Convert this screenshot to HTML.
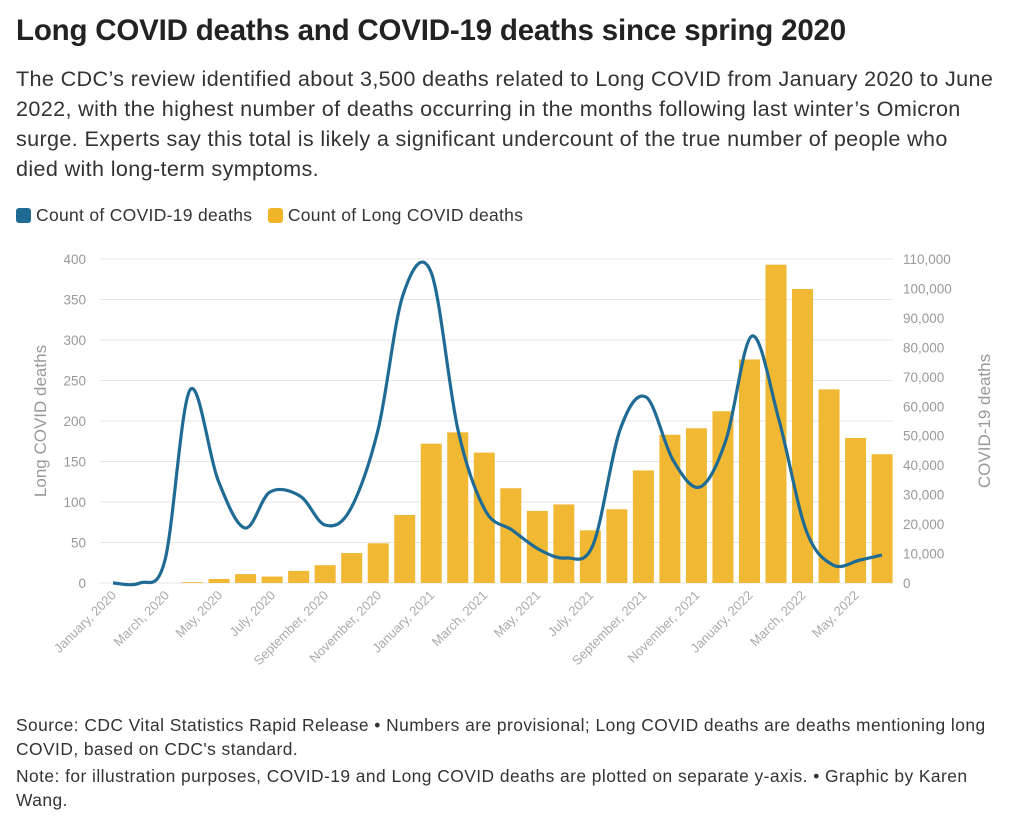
<!DOCTYPE html>
<html><head><meta charset="utf-8"><style>
body{margin:0;background:#fff;font-family:"Liberation Sans",sans-serif;color:#333;width:1024px;height:819px;overflow:hidden}
h1{position:absolute;left:16px;top:14px;margin:0;font-size:29.5px;font-weight:bold;color:#222;letter-spacing:-0.2px;white-space:nowrap}
.sub{position:absolute;left:16px;top:64px;width:1005px;font-size:21.6px;letter-spacing:0.35px;line-height:30px;color:#333;white-space:nowrap}
.leg{position:absolute;left:16px;top:205px;font-size:17.5px;letter-spacing:0.3px;color:#333}
.leg span.b{display:inline-block;width:15px;height:15px;border-radius:3px;vertical-align:-2px;margin-right:5px}
.foot{position:absolute;left:16px;top:713px;width:1005px;font-size:17.4px;letter-spacing:0.45px;line-height:24px;color:#333;white-space:nowrap}
svg{position:absolute;left:0;top:0}
</style></head><body>
<h1>Long COVID deaths and COVID-19 deaths since spring 2020</h1>
<div class="sub">The CDC’s review identified about 3,500 deaths related to Long COVID from January 2020 to June<br>2022, with the highest number of deaths occurring in the months following last winter’s Omicron<br>surge. Experts say this total is likely a significant undercount of the true number of people who<br>died with long-term symptoms.</div>
<div class="leg"><span class="b" style="background:#1f6b94"></span>Count of COVID-19 deaths &nbsp;&nbsp;<span class="b" style="background:#f0b429"></span>Count of Long COVID deaths</div>
<svg id="s" width="1024" height="819" font-family="Liberation Sans, sans-serif"></svg>
<div class="foot">Source: CDC Vital Statistics Rapid Release • Numbers are provisional; Long COVID deaths are deaths mentioning long<br>COVID, based on CDC's standard.<br><span style="display:block;margin-top:3px">Note: for illustration purposes, COVID-19 and Long COVID deaths are plotted on separate y-axis. • Graphic by Karen<br>Wang.</span></div>
<script>
(function(){
var s=document.getElementById('s'),h='';
var y0=583,yt=259,L=100,R=893;
function Y(v){return y0-v*(y0-yt)/400}
for(var v=0;v<=400;v+=50){var y=Y(v);h+='<line x1="'+L+'" x2="'+R+'" y1="'+y+'" y2="'+y+'" stroke="#e6e6e6"/>';
h+='<text x="86" y="'+(y+5)+'" text-anchor="end" font-size="13.5" fill="#999">'+v+'</text>';}
for(var k=0;k<=11;k++){var y=y0-k*(y0-yt)/11;h+='<text x="903" y="'+(y+5)+'" font-size="13.5" fill="#999">'+(k==0?'0':(k*10)+',000')+'</text>';}
h+='<text transform="translate(46,421) rotate(-90)" text-anchor="middle" font-size="17" fill="#999">Long COVID deaths</text>';
h+='<text transform="translate(990,421) rotate(-90)" text-anchor="middle" font-size="17" fill="#999">COVID-19 deaths</text>';
var bars=[0,0,0,1,5,11,8,15,22,37,49,84,172,186,161,117,89,97,65,91,139,183,191,212,276,393,363,239,179,159];
var sp=26.52,x0=113;
bars.forEach(function(b,i){if(b<=0)return;var x=x0+i*sp,y=Y(b);h+='<rect x="'+(x-10.5)+'" y="'+y+'" width="21" height="'+(y0-y)+'" fill="#f0b429" opacity="0.95"/>';});
var m=['January','March','May','July','September','November'];
for(var i=0;i<30;i+=2){var x=x0+i*sp,yr=2020+Math.floor(i/12);h+='<text transform="translate('+(x+4)+',596) rotate(-45)" text-anchor="end" font-size="13" fill="#aaa">'+m[(i%12)/2]+', '+yr+'</text>';}
var p=[[113,583],[140,583],[165,560],[190,390],[218,480],[245,528],[270,492],[300,496],[325,525],[350,510],[378,430],[403,295],[431,272],[458,430],[485,510],[512,530],[540,550],[566,558],[593,545],[620,430],[646,397],[673,460],[700,487],[726,440],[752,336],[779,420],[806,530],[833,565],[860,560],[882,555]];
var d='M'+p[0];
for(var i=0;i<p.length-1;i++){var a=p[Math.max(0,i-1)],b=p[i],c=p[i+1],e=p[Math.min(p.length-1,i+2)];
var c1=[b[0]+(c[0]-a[0])/6,b[1]+(c[1]-a[1])/6],c2=[c[0]-(e[0]-b[0])/6,c[1]-(e[1]-b[1])/6];
d+=' C'+c1+' '+c2+' '+c;}
h+='<path d="'+d+'" fill="none" stroke="#1f6b94" stroke-width="3.2" stroke-linejoin="round"/>';
s.innerHTML=h;
})();
</script>
</body></html>
